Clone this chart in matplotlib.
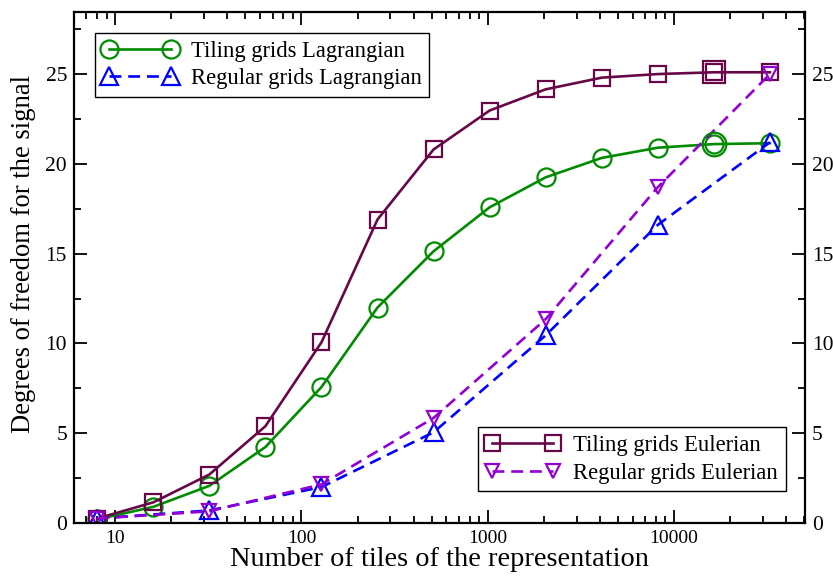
import matplotlib
matplotlib.use("Agg")
import matplotlib.pyplot as plt
from matplotlib.ticker import LogLocator, MultipleLocator, NullFormatter, FixedFormatter, FixedLocator

plt.rcParams['font.family'] = ['Liberation Serif', 'DejaVu Serif']
plt.rcParams['mathtext.fontset'] = 'stix'

# number of tiles used for each representation
tiles = [8, 16, 32, 64, 128, 256, 512, 1024, 2048, 4096, 8192, 16384, 32768]
tiles_regular = [8, 32, 128, 512, 2048, 8192, 32768]

# degrees of freedom for the signal
tiling_lagrangian = [0.2, 0.9, 2.07, 4.23, 7.57, 12.0, 15.13, 17.58, 19.25, 20.33, 20.9, 21.1, 21.15]
tiling_eulerian = [0.25, 1.15, 2.7, 5.39, 10.06, 16.9, 20.8, 22.97, 24.15, 24.8, 25.0, 25.1, 25.1]
regular_lagrangian = [0.25, 0.7, 2.0, 5.05, 10.45, 16.6, 21.2]
regular_eulerian = [0.25, 0.65, 2.15, 5.85, 11.35, 18.7, 25.0]

maroon = '#670748'
green = '#008b00'
blue = '#0000ff'
violet = '#9400d3'

fig = plt.figure(figsize=(8.33, 5.77), dpi=100)
ax = fig.add_axes([0.0888, 0.0936, 0.8776, 0.8854])

lw = 1.9
mew = 1.6
dash = (4.5, 2.6)

ln_tl, = ax.plot(tiles, tiling_lagrangian, color=green, lw=lw, marker='o', ms=13,
                 mfc='none', mew=mew, label='Tiling grids Lagrangian')
ln_rl, = ax.plot(tiles_regular, regular_lagrangian, color=blue, lw=lw, dashes=dash,
                 marker='^', ms=13, mfc='none', mew=mew, label='Regular grids Lagrangian')
ln_te, = ax.plot(tiles, tiling_eulerian, color=maroon, lw=lw, marker='s', ms=11,
                 mfc='none', mew=mew, label='Tiling grids Eulerian')
ln_re, = ax.plot(tiles_regular, regular_eulerian, color=violet, lw=lw, dashes=dash,
                 marker='v', ms=10, mfc='none', mew=mew, label='Regular grids Eulerian')

# highlighted point at 16384 tiles (outer ring)
k = tiles.index(16384)
ax.plot([tiles[k]], [tiling_eulerian[k]], ls='none', marker='s', ms=16, mfc='none',
        mec=maroon, mew=mew)
ax.plot([tiles[k]], [tiling_lagrangian[k]], ls='none', marker='o', ms=17, mfc='none',
        mec=green, mew=mew)

ax.set_xscale('log')
ax.set_xlim(6.0, 50600)
ax.set_ylim(0, 28.45)

ax.xaxis.set_major_locator(FixedLocator([10, 100, 1000, 10000]))
ax.xaxis.set_major_formatter(FixedFormatter(['10', '100', '1000', '10000']))
ax.xaxis.set_minor_locator(LogLocator(base=10, subs=range(2, 10), numticks=20))
ax.xaxis.set_minor_formatter(NullFormatter())
ax.yaxis.set_major_locator(MultipleLocator(5))
ax.yaxis.set_minor_locator(MultipleLocator(2.5))

ax.tick_params(which='both', direction='in', top=True, right=True, labelright=True,
               width=1.3)
ax.tick_params(axis='x', labelsize=14, pad=5)
ax.tick_params(axis='y', labelsize=15.5, pad=5)
ax.tick_params(which='major', length=9.5)
ax.tick_params(which='minor', length=5)
for s in ax.spines.values():
    s.set_linewidth(1.6)

ax.set_xlabel('Number of tiles of the representation', fontsize=20.4, labelpad=0)
ax.set_ylabel('Degrees of freedom for the signal', fontsize=19.2)
ax.yaxis.set_label_coords(-0.052, 0.526)

leg_kw = dict(fontsize=16.3, numpoints=2, handlelength=3.3, handletextpad=0.6,
              fancybox=False, edgecolor='black', framealpha=1, borderpad=0.33,
              labelspacing=0.3, borderaxespad=0)
leg1 = ax.legend(handles=[ln_tl, ln_rl], loc='upper left', bbox_to_anchor=(0.029, 0.959),
                 **leg_kw)
leg1.get_frame().set_linewidth(1.0)
ax.add_artist(leg1)
leg2 = ax.legend(handles=[ln_te, ln_re], loc='lower right', bbox_to_anchor=(0.9735, 0.0626),
                 **leg_kw)
leg2.get_frame().set_linewidth(1.0)

fig.savefig('out.png', dpi=100)
